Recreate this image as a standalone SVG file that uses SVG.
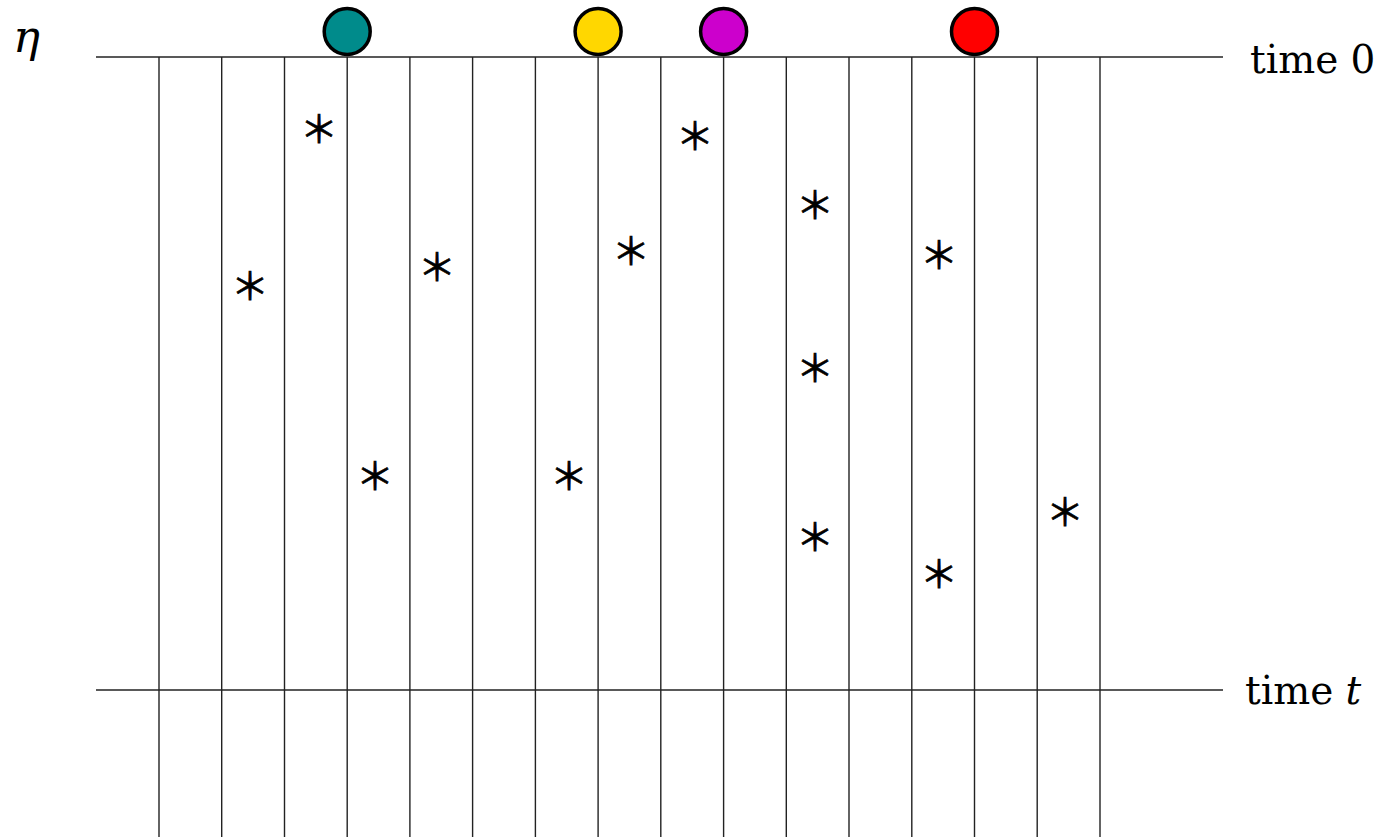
<svg xmlns="http://www.w3.org/2000/svg" width="1386" height="838" viewBox="0 0 1386 838">
<style>
.ln{stroke:#222;stroke-width:1.4;fill:none}
.dot{stroke:#000;stroke-width:3.5}
.ast{font-family:"Noto Sans CJK SC",sans-serif;font-size:38px;text-anchor:middle;dominant-baseline:central;fill:#000;stroke:#000;stroke-width:0.7}
.lbl{font-family:"DejaVu Serif","Liberation Serif",serif;font-size:39px;fill:#000}
.eta{font-family:"DejaVu Serif","Liberation Serif",serif;font-size:45px;font-style:italic;fill:#000}
</style>
<rect width="1386" height="838" fill="#fff"/>
<g id="connectors">
<line class="ln" x1="96" y1="57" x2="1223" y2="57"/>
<line class="ln" x1="96" y1="690" x2="1223" y2="690"/>
<line class="ln" x1="159" y1="57" x2="159" y2="837"/>
<line class="ln" x1="221.7" y1="57" x2="221.7" y2="837"/>
<line class="ln" x1="284.5" y1="57" x2="284.5" y2="837"/>
<line class="ln" x1="347.2" y1="57" x2="347.2" y2="837"/>
<line class="ln" x1="409.9" y1="57" x2="409.9" y2="837"/>
<line class="ln" x1="472.6" y1="57" x2="472.6" y2="837"/>
<line class="ln" x1="535.4" y1="57" x2="535.4" y2="837"/>
<line class="ln" x1="598.1" y1="57" x2="598.1" y2="837"/>
<line class="ln" x1="660.8" y1="57" x2="660.8" y2="837"/>
<line class="ln" x1="723.6" y1="57" x2="723.6" y2="837"/>
<line class="ln" x1="786.3" y1="57" x2="786.3" y2="837"/>
<line class="ln" x1="849" y1="57" x2="849" y2="837"/>
<line class="ln" x1="911.8" y1="57" x2="911.8" y2="837"/>
<line class="ln" x1="974.5" y1="57" x2="974.5" y2="837"/>
<line class="ln" x1="1037.2" y1="57" x2="1037.2" y2="837"/>
<line class="ln" x1="1100" y1="57" x2="1100" y2="837"/>
</g>
<g id="dot-teal"><circle class="dot" cx="347.2" cy="31.5" r="23" fill="#008B8B"/></g>
<g id="dot-gold"><circle class="dot" cx="598.1" cy="31.5" r="23" fill="#FFD700"/></g>
<g id="dot-magenta"><circle class="dot" cx="723.6" cy="31.5" r="23" fill="#CC00CC"/></g>
<g id="dot-red"><circle class="dot" cx="974.5" cy="31.5" r="23" fill="#FF0000"/></g>
<g id="stars">
<text class="ast" x="319" y="126">＊</text>
<text class="ast" x="250" y="283">＊</text>
<text class="ast" x="437" y="264">＊</text>
<text class="ast" x="375" y="473">＊</text>
<text class="ast" x="569" y="473">＊</text>
<text class="ast" x="695" y="133">＊</text>
<text class="ast" x="631" y="248">＊</text>
<text class="ast" x="815" y="202">＊</text>
<text class="ast" x="939" y="252">＊</text>
<text class="ast" x="815" y="365">＊</text>
<text class="ast" x="815" y="534">＊</text>
<text class="ast" x="939" y="571">＊</text>
<text class="ast" x="1065" y="509">＊</text>
</g>
<g id="labels">
<text class="eta" x="13" y="52">η</text>
<text class="lbl" x="1250" y="73">time 0</text>
<text class="lbl" x="1245" y="704">time <tspan font-style="italic">t</tspan></text>
</g>
</svg>
